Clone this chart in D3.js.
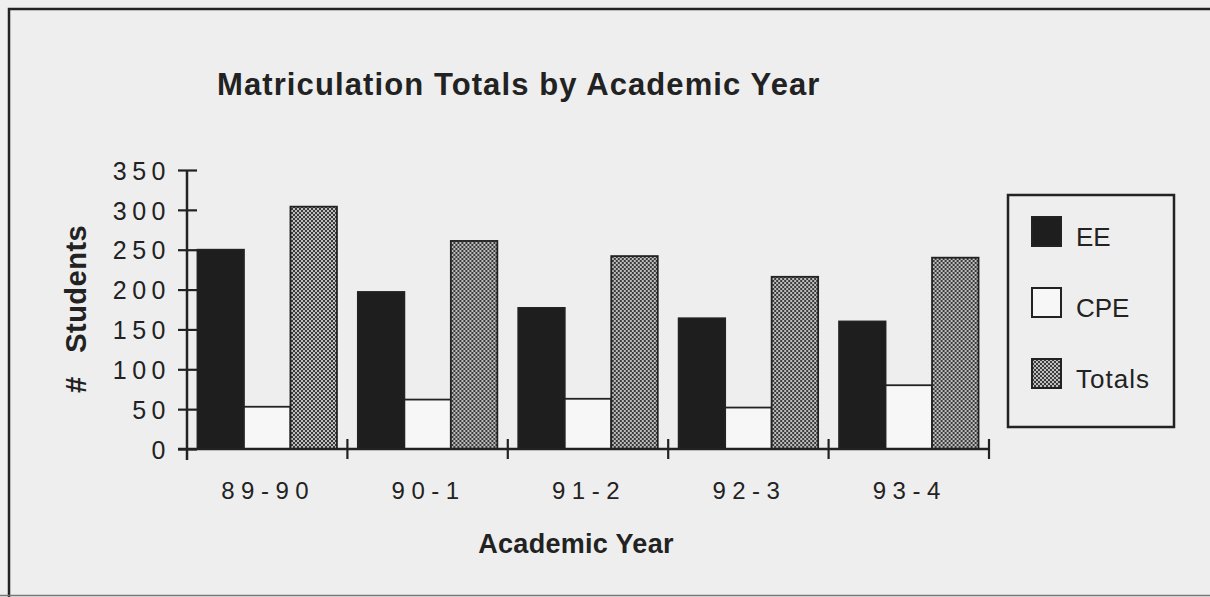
<!DOCTYPE html>
<html>
<head>
<meta charset="utf-8">
<script src="https://cdn.jsdelivr.net/npm/d3@7"></script>
<style>
  body { margin: 0; background: #eeeeee; }
  svg { display: block; font-family: "Liberation Sans", Arial, Helvetica, sans-serif; }
  text { fill: #222; }
</style>
</head>
<body>
<div id="chart"></div>
<script>
// data
const years = ["89-90", "90-1", "91-2", "92-3", "93-4"];
const series = ["EE", "CPE", "Totals"];
const eeValues = [250, 197, 177, 164, 160];
const cpeValues = [53, 62, 63, 52, 80];
const totalValues = [304, 261, 242, 216, 240];
const yTicks = [0, 50, 100, 150, 200, 250, 300, 350];

const valuesBySeries = { EE: eeValues, CPE: cpeValues, Totals: totalValues };
const rows = years.map((yr, i) => ({ year: yr, values: series.map(s => ({ key: s, value: valuesBySeries[s][i] })) }));

// set dimensions
const width = 1210,
    height = 597,
    plot = { left: 187, right: 989, top: 170, bottom: 449 };

const ink = "#222";
const fills = { EE: "#1e1e1e", CPE: "#f7f7f7", Totals: "url(#dots)" };

// create svg
const svg = d3.select("#chart")
    .append("svg")
    .attr("width", width)
    .attr("height", height);

// dithered fill for totals
const pat = svg.append("defs").append("pattern")
    .attr("id", "dots")
    .attr("width", 4)
    .attr("height", 4)
    .attr("patternUnits", "userSpaceOnUse");
pat.append("rect").attr("width", 4).attr("height", 4).attr("fill", "#bdbdbd");
pat.append("rect").attr("width", 2).attr("height", 2).attr("fill", "#3a3a3a");
pat.append("rect").attr("x", 2).attr("y", 2).attr("width", 2).attr("height", 2).attr("fill", "#3a3a3a");

// page frame
svg.append("path")
    .attr("d", `M9,597 V9 H${width}`)
    .attr("fill", "none")
    .attr("stroke", ink)
    .attr("stroke-width", 2.5);
svg.append("line")
    .attr("x1", 0).attr("x2", width)
    .attr("y1", 595.5).attr("y2", 595.5)
    .attr("stroke", "#777")
    .attr("stroke-width", 1.5);

// scales
const x = d3.scaleBand()
    .domain(years)
    .range([plot.left, plot.right])
    .paddingInner(0)
    .paddingOuter(0);

const x1 = d3.scaleBand()
    .domain(series)
    .range([0, x.bandwidth()])
    .paddingInner(0)
    .paddingOuter(0.225);

const y = d3.scaleLinear()
    .domain([0, 350])
    .range([plot.bottom, plot.top]);

// title
svg.append("text")
    .attr("x", 217)
    .attr("y", 95)
    .attr("font-size", 31)
    .attr("font-weight", "bold")
    .attr("letter-spacing", 1.1)
    .text("Matriculation Totals by Academic Year");

// bars
const group = svg.selectAll("g.year")
    .data(rows)
    .enter()
    .append("g")
    .attr("class", "year")
    .attr("transform", d => `translate(${x(d.year)},0)`);

group.selectAll("rect")
    .data(d => d.values)
    .enter()
    .append("rect")
    .attr("x", d => x1(d.key))
    .attr("y", d => y(d.value))
    .attr("width", x1.bandwidth())
    .attr("height", d => y(0) - y(d.value))
    .attr("fill", d => fills[d.key])
    .attr("stroke", ink)
    .attr("stroke-width", 1.8);

// y axis
const yAxis = svg.append("g")
    .attr("transform", `translate(${plot.left},0)`)
    .call(d3.axisLeft(y).tickValues(yTicks).tickSize(9).tickSizeOuter(0));

yAxis.select(".domain").remove();
yAxis.selectAll(".tick line")
    .attr("x1", 10)
    .attr("stroke", ink)
    .attr("stroke-width", 2.2);
yAxis.selectAll(".tick text")
    .attr("x", -16)
    .attr("dy", "0.37em")
    .attr("font-size", 25)
    .attr("letter-spacing", 5.5)
    .attr("font-family", "Liberation Sans, Arial, sans-serif")
    .attr("fill", ink);

svg.append("line")
    .attr("x1", plot.left).attr("x2", plot.left)
    .attr("y1", y(350)).attr("y2", plot.bottom + 11)
    .attr("stroke", ink)
    .attr("stroke-width", 2.5);

// x axis
svg.append("line")
    .attr("x1", plot.left - 9).attr("x2", plot.right)
    .attr("y1", plot.bottom).attr("y2", plot.bottom)
    .attr("stroke", ink)
    .attr("stroke-width", 2.5);

const bounds = years.map(d => x(d)).concat([x(years[years.length - 1]) + x.bandwidth()]);
svg.selectAll("line.xtick")
    .data(bounds.slice(1))
    .enter()
    .append("line")
    .attr("class", "xtick")
    .attr("x1", d => d).attr("x2", d => d)
    .attr("y1", plot.bottom - 10).attr("y2", plot.bottom + 10)
    .attr("stroke", ink)
    .attr("stroke-width", 2.2);

svg.selectAll("text.xlabel")
    .data(years)
    .enter()
    .append("text")
    .attr("class", "xlabel")
    .attr("x", d => x(d) + x.bandwidth() / 2 + 1)
    .attr("y", 499)
    .attr("text-anchor", "middle")
    .attr("font-size", 24)
    .attr("letter-spacing", 6.5)
    .text(d => d);

// axis titles
svg.append("text")
    .attr("x", 576)
    .attr("y", 553)
    .attr("text-anchor", "middle")
    .attr("font-size", 27)
    .attr("font-weight", "bold")
    .attr("letter-spacing", 0.3)
    .text("Academic Year");

const yTitle = svg.append("text")
    .attr("transform", "translate(86,393) rotate(-90)")
    .attr("font-size", 29)
    .attr("font-weight", "bold");
yTitle.append("tspan").text("#");
yTitle.append("tspan").attr("dx", 24).attr("letter-spacing", 0.5).text("Students");

// legend
const legend = svg.append("g");
legend.append("rect")
    .attr("x", 1008).attr("y", 195)
    .attr("width", 166).attr("height", 232)
    .attr("fill", "none")
    .attr("stroke", ink)
    .attr("stroke-width", 2.5);

const item = legend.selectAll("g.item")
    .data(series)
    .enter()
    .append("g")
    .attr("class", "item")
    .attr("transform", (d, i) => `translate(1032,${217 + i * 71})`);

item.append("rect")
    .attr("width", 29)
    .attr("height", 29)
    .attr("fill", d => fills[d])
    .attr("stroke", ink)
    .attr("stroke-width", 2);

item.append("text")
    .attr("x", 44)
    .attr("y", 29)
    .attr("font-size", 26)
    .attr("letter-spacing", d => d === "Totals" ? 1 : 0)
    .text(d => d);
</script>
</body>
</html>
